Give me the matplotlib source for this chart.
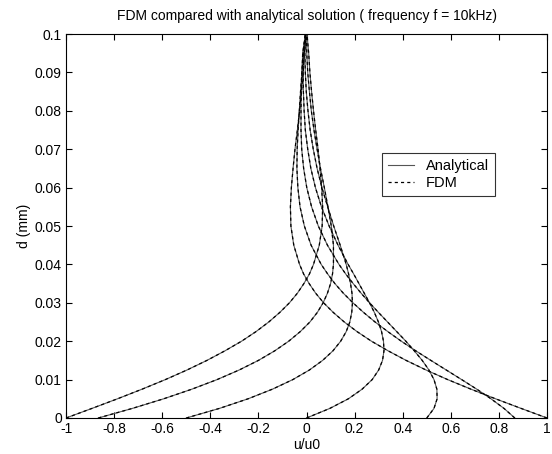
import matplotlib
matplotlib.use("Agg")
import matplotlib.pyplot as plt

plt.rcParams['font.family'] = ['Liberation Sans', 'DejaVu Sans']

# depth values (mm)
d = [0, 0.0025, 0.005, 0.0075, 0.01, 0.0125, 0.015, 0.0175, 0.02, 0.0225,
     0.025, 0.0275, 0.03, 0.0325, 0.035, 0.0375, 0.04, 0.045, 0.05, 0.055,
     0.06, 0.065, 0.07, 0.075, 0.08, 0.085, 0.09, 0.095, 0.1]

# u/u0, one list per phase
u_000 = [1.0, 0.892, 0.786, 0.684, 0.587, 0.497, 0.414, 0.339, 0.270, 0.210,
         0.157, 0.111, 0.071, 0.038, 0.011, -0.012, -0.029, -0.053, -0.065, -0.067,
         -0.063, -0.056, -0.048, -0.038, -0.029, -0.021, -0.014, -0.009, -0.002]
u_030 = [0.866, 0.821, 0.767, 0.708, 0.645, 0.581, 0.517, 0.454, 0.394, 0.338,
         0.285, 0.237, 0.193, 0.153, 0.118, 0.088, 0.061, 0.019, -0.009, -0.027,
         -0.036, -0.040, -0.039, -0.035, -0.030, -0.025, -0.019, -0.014, -0.004]
u_060 = [0.5, 0.530, 0.543, 0.542, 0.530, 0.509, 0.481, 0.448, 0.413, 0.375,
         0.337, 0.299, 0.262, 0.227, 0.194, 0.163, 0.135, 0.087, 0.049, 0.021,
         0.001, -0.012, -0.020, -0.023, -0.023, -0.022, -0.019, -0.016, -0.005]
u_090 = [0.0, 0.097, 0.174, 0.231, 0.273, 0.300, 0.316, 0.322, 0.320, 0.312,
         0.299, 0.282, 0.262, 0.240, 0.218, 0.196, 0.173, 0.131, 0.094, 0.062,
         0.037, 0.018, 0.005, -0.005, -0.010, -0.013, -0.014, -0.013, -0.004]
u_120 = [-0.5, -0.362, -0.243, -0.142, -0.057, 0.012, 0.067, 0.110, 0.142, 0.165,
         0.180, 0.188, 0.191, 0.189, 0.183, 0.175, 0.165, 0.140, 0.113, 0.088,
         0.064, 0.044, 0.028, 0.015, 0.006, -0.001, -0.005, -0.007, -0.003]
u_150 = [-0.866, -0.724, -0.594, -0.477, -0.372, -0.280, -0.200, -0.132, -0.074, -0.026,
         0.014, 0.045, 0.069, 0.087, 0.100, 0.108, 0.112, 0.112, 0.103, 0.089,
         0.074, 0.058, 0.044, 0.031, 0.020, 0.012, 0.005, 0.001, 0.0]
u_180 = [-1.0, -0.892, -0.786, -0.684, -0.587, -0.497, -0.414, -0.339, -0.270, -0.210,
         -0.157, -0.111, -0.071, -0.038, -0.011, 0.012, 0.029, 0.053, 0.065, 0.067,
         0.063, 0.056, 0.048, 0.038, 0.029, 0.021, 0.014, 0.009, 0.002]

analytical = [u_000, u_030, u_060, u_090, u_120, u_150, u_180]
# FDM results sit on top of the analytical curves
fdm = [u_000, u_030, u_060, u_090, u_120, u_150, u_180]

xticks = [-1, -0.8, -0.6, -0.4, -0.2, 0, 0.2, 0.4, 0.6, 0.8, 1]
xlabels = ['-1', '-0.8', '-0.6', '-0.4', '-0.2', '0', '0.2', '0.4', '0.6', '0.8', '1']
yticks = [0, 0.01, 0.02, 0.03, 0.04, 0.05, 0.06, 0.07, 0.08, 0.09, 0.1]
ylabels = ['0', '0.01', '0.02', '0.03', '0.04', '0.05', '0.06', '0.07', '0.08', '0.09', '0.1']

fig = plt.figure(figsize=(5.52, 4.54), dpi=100)
ax = fig.add_axes([0.1196, 0.0793, 0.8714, 0.8458])

for i, u in enumerate(analytical):
    ax.plot(u, d, color='#555555', lw=0.8, ls='-',
            label='Analytical' if i == 0 else None)
for i, u in enumerate(fdm):
    ax.plot(u, d, color='black', lw=0.9, ls=(0, (2.5, 2.5)),
            label='FDM' if i == 0 else None)

ax.set_xlim(-1, 1)
ax.set_ylim(0, 0.1)
ax.set_xticks(xticks)
ax.set_xticklabels(xlabels)
ax.set_yticks(yticks)
ax.set_yticklabels(ylabels)
ax.tick_params(direction='in', top=True, right=True, length=4, width=0.8,
               labelsize=10, pad=3)
for s in ax.spines.values():
    s.set_linewidth(0.8)

ax.set_xlabel('u/u0', fontsize=10, labelpad=1)
ax.set_ylabel('d (mm)', fontsize=10, labelpad=3)
ax.set_title('FDM compared with analytical solution ( frequency f = 10kHz)',
             fontsize=10, pad=10)

leg = ax.legend(loc='upper left', bbox_to_anchor=(0.657, 0.69), fontsize=10.5,
                frameon=True, fancybox=False, edgecolor='black',
                borderaxespad=0, handlelength=1.8, borderpad=0.4,
                handletextpad=0.8, labelspacing=0.2)
leg.get_frame().set_linewidth(0.8)

fig.savefig('out.png', dpi=100)
